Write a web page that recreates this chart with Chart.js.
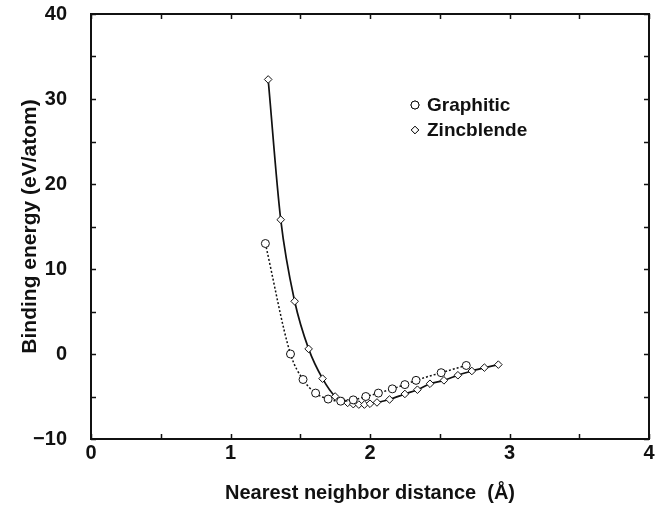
<!DOCTYPE html>
<html><head><meta charset="utf-8">
<script src="https://cdn.jsdelivr.net/npm/chart.js@4.4.0/dist/chart.umd.min.js"></script>
<style>html,body{margin:0;padding:0;background:#fff;}canvas{display:block;}</style>
</head><body>
<canvas id="c" width="658" height="506"></canvas>
<script>
const seriesLabels = ['Graphitic', 'Zincblende'];
const graphiticX = [1.25, 1.43, 1.52, 1.61, 1.70, 1.79, 1.88, 1.97, 2.06, 2.16, 2.25, 2.33, 2.51, 2.69];
const graphiticY = [13.0, 0.0, -3.0, -4.6, -5.3, -5.55, -5.4, -5.0, -4.6, -4.1, -3.6, -3.1, -2.2, -1.35];
const zincX = [1.27, 1.36, 1.46, 1.56, 1.66, 1.75, 1.80, 1.84, 1.88, 1.92, 1.96, 2.00, 2.05, 2.14, 2.25, 2.34, 2.43, 2.53, 2.63, 2.73, 2.82, 2.92];
const zincY = [32.3, 15.8, 6.2, 0.6, -2.9, -5.0, -5.5, -5.75, -5.9, -5.95, -5.95, -5.85, -5.7, -5.35, -4.7, -4.2, -3.5, -3.1, -2.5, -2.0, -1.6, -1.25];
const xTicks = [0, 1, 2, 3, 4];
const yTicks = [-10, 0, 10, 20, 30, 40];
const xMinorStep = 0.5;
const yMinorStep = 5;
const xTitle = 'Nearest neighbor distance  (Å)';
const yTitle = 'Binding energy (eV/atom)';

const INK = '#111';
const FONT = '"Liberation Sans", Arial, Helvetica, sans-serif';

function pts(xs, ys) { return xs.map((x, i) => ({x, y: ys[i]})); }

const framePlugin = {
  id: 'frame',
  afterDatasetsDraw(chart) {
    const {ctx, chartArea: {left, top, right, bottom}, scales: {x, y}} = chart;
    ctx.save();
    ctx.strokeStyle = INK;
    ctx.lineWidth = 1.5;
    ctx.beginPath();
    for (let v = xTicks[0]; v <= xTicks[xTicks.length - 1] + 1e-9; v += xMinorStep) {
      const px = Math.round(x.getPixelForValue(v)) + 0.5;
      ctx.moveTo(px, bottom); ctx.lineTo(px, bottom - 5);
      ctx.moveTo(px, top); ctx.lineTo(px, top + 5);
    }
    for (let v = yTicks[0]; v <= yTicks[yTicks.length - 1] + 1e-9; v += yMinorStep) {
      const py = Math.round(y.getPixelForValue(v)) + 0.5;
      ctx.moveTo(left, py); ctx.lineTo(left + 5, py);
      ctx.moveTo(right, py); ctx.lineTo(right - 5, py);
    }
    ctx.stroke();
    ctx.lineWidth = 2;
    ctx.strokeRect(left, top, right - left, bottom - top);

    // legend
    const lx = 415, ly0 = 105, dy = 25;
    chart.data.datasets.forEach((ds, i) => {
      const cy = ly0 + i * dy;
      ctx.lineWidth = 1;
      ctx.strokeStyle = INK;
      ctx.fillStyle = '#fff';
      Chart.helpers.drawPoint(ctx, {pointStyle: ds.pointStyle, radius: ds.pointRadius, borderWidth: 1, rotation: 0}, lx, cy);
      ctx.fill(); ctx.stroke();
      ctx.fillStyle = INK;
      ctx.font = 'bold 19px ' + FONT;
      ctx.textAlign = 'left';
      ctx.textBaseline = 'middle';
      ctx.fillText(ds.label, 427, cy + 1);
    });
    ctx.restore();
  }
};

new Chart(document.getElementById('c'), {
  type: 'scatter',
  data: {
    datasets: [
      {
        label: seriesLabels[0],
        data: pts(graphiticX, graphiticY),
        showLine: true,
        borderColor: INK,
        borderWidth: 1.5,
        borderDash: [2, 2],
        cubicInterpolationMode: 'monotone',
        pointStyle: 'circle',
        pointRadius: 4,
        pointBorderWidth: 1,
        pointBorderColor: INK,
        pointBackgroundColor: '#fff'
      },
      {
        label: seriesLabels[1],
        data: pts(zincX, zincY),
        showLine: true,
        borderColor: INK,
        borderWidth: 1.7,
        cubicInterpolationMode: 'monotone',
        pointStyle: 'rectRot',
        pointRadius: 3.8,
        pointBorderWidth: 1,
        pointBorderColor: INK,
        pointBackgroundColor: '#fff'
      }
    ]
  },
  options: {
    responsive: false,
    animation: false,
    devicePixelRatio: 1,
    layout: {autoPadding: false, padding: {top: 14, right: 9, left: 0, bottom: 0}},
    plugins: {legend: {display: false}, tooltip: {enabled: false}},
    scales: {
      x: {
        type: 'linear', min: xTicks[0], max: xTicks[xTicks.length - 1],
        afterBuildTicks: s => { s.ticks = xTicks.map(v => ({value: v})); },
        afterFit: s => { s.height = 67; s.paddingLeft = 0; s.paddingRight = 0; },
        grid: {display: false, drawTicks: false},
        border: {display: false},
        ticks: {color: INK, font: {family: FONT, size: 20, weight: 'bold'}, padding: 2, maxRotation: 0, autoSkip: false},
        title: {display: true, text: xTitle, color: INK, font: {family: FONT, size: 20, weight: 'bold'}, padding: {top: 0, bottom: 1}}
      },
      y: {
        type: 'linear', min: yTicks[0], max: yTicks[yTicks.length - 1],
        afterBuildTicks: s => { s.ticks = yTicks.map(v => ({value: v})); },
        afterFit: s => { s.width = 91; s.paddingTop = 0; s.paddingBottom = 0; },
        grid: {display: false, drawTicks: false},
        border: {display: false},
        ticks: {color: INK, font: {family: FONT, size: 20, weight: 'bold'}, padding: 24, autoSkip: false,
          callback: v => (v < 0 ? '\u2212' + Math.abs(v) : String(v))},
        title: {display: true, text: yTitle, color: INK, font: {family: FONT, size: 21, weight: 'bold'}, padding: {top: 18, bottom: 0}}
      }
    }
  },
  plugins: [framePlugin]
});
</script>
</body></html>
